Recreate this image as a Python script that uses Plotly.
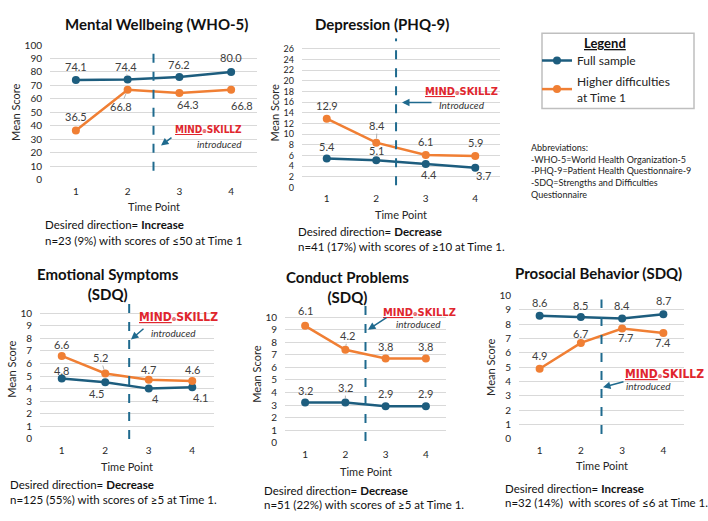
import plotly.graph_objects as go

W, H = 708, 521
FONT = "Lato"
LOGO_FONT = "Liberation Sans Narrow, Arial Narrow, DejaVu Sans Condensed"


def fx(px):
    return px / W


def fy(py):
    return 1 - py / H


# ---------------- data ----------------
time_points = [1, 2, 3, 4]
tick_labels = ["1", "2", "3", "4"]

wellbeing_full = [74.1, 74.4, 76.2, 80.0]
wellbeing_high = [36.5, 66.8, 64.3, 66.8]
wellbeing_full_labels = ["74.1", "74.4", "76.2", "80.0"]
wellbeing_high_labels = ["36.5", "66.8", "64.3", "66.8"]

depression_full = [5.4, 5.1, 4.4, 3.7]
depression_high = [12.9, 8.4, 6.1, 5.9]
depression_full_labels = ["5.4", "5.1", "4.4", "3.7"]
depression_high_labels = ["12.9", "8.4", "6.1", "5.9"]

emotional_full = [4.8, 4.5, 4.0, 4.1]
emotional_high = [6.6, 5.2, 4.7, 4.6]
emotional_full_labels = ["4.8", "4.5", "4", "4.1"]
emotional_high_labels = ["6.6", "5.2", "4.7", "4.6"]

conduct_full = [3.2, 3.2, 2.9, 2.9]
conduct_high = [9.3, 7.4, 6.7, 6.7]
conduct_full_labels = ["3.2", "3.2", "2.9", "2.9"]
conduct_high_labels = ["6.1", "4.2", "3.8", "3.8"]

prosocial_full = [8.6, 8.5, 8.4, 8.7]
prosocial_high = [4.9, 6.7, 7.7, 7.4]
prosocial_full_labels = ["8.6", "8.5", "8.4", "8.7"]
prosocial_high_labels = ["4.9", "6.7", "7.7", "7.4"]

series_names = ["Full sample", "Higher difficulties<br>at Time 1"]
x_title = "Time Point"
y_title = "Mean Score"

# ---------------- styles ----------------
BLUE = "#1d5d7e"
ORANGE = "#f07f34"
GRID = "#d9d9d9"
TXT = "#262626"

panels = [
    dict(title="Mental Wellbeing (WHO-5)", tpos=(156, 17),
         xd=(50, 257), yd=(39, 177), yr=[0, 100], tv=list(range(0, 101, 10)), tfs=10,
         full=wellbeing_full, high=wellbeing_high,
         fl=wellbeing_full_labels, hl=wellbeing_high_labels,
         fo=[(0, -13, 0), (-2, -13, 1), (0, -13, 0), (0, -14, 0)],
         ho=[(0, -14, 0), (-7, 17, 1), (9, 11, 0), (11, 16, 0)],
         dash=(2.5, 6.5, 99.5), xt=205,
         logo=(208, 126, 10), intro=(219, 140), arrow=(161, 142, 12, -9),
         intro_text="introduced",
         desired=(43, 223, 239, "Increase", "n=23 (9%) with scores of ≤50 at Time 1")),
    dict(title="Depression (PHQ-9)", tpos=(382, 17),
         xd=(302, 500), yd=(32, 185), yr=[0, 28], tv=list(range(0, 27, 2)), tfs=9,
         full=depression_full, high=depression_high,
         fl=depression_full_labels, hl=depression_high_labels,
         fo=[(0, -12, 0), (0, -10, 1), (3, 11, 0), (8, 8, 0)],
         ho=[(0, -13, 0), (1, -17, 1), (0, -13, 0), (0, -13, 0)],
         dash=(2.4, 0.4, 28), xt=213,
         logo=(461, 87, 11), intro=(462, 100), arrow=(402, 98, 31, 0),
         intro_text="Introduced",
         desired=(296, 230, 246, "Decrease", "n=41 (17%) with scores of ≥10 at Time 1.")),
    dict(title="Emotional Symptoms<br>(SDQ)", tpos=(108, 284),
         xd=(40, 214), yd=(300, 443), yr=[0, 11.08], tv=list(range(0, 11)), tfs=10,
         full=emotional_full, high=emotional_high,
         fl=emotional_full_labels, hl=emotional_high_labels,
         fo=[(0, -8, 0), (-9, 11, 0), (7, 10, 0), (8, 10, 0)],
         ho=[(0, -11, 0), (-5, -16, 1), (0, -10, 0), (0, -12, 0)],
         dash=(2.55, 0, 11.08), xt=471,
         logo=(179, 318, 12), intro=(173, 334), arrow=(131, 341, 14, -12),
         intro_text="introduced",
         desired=(8, 490, 505, "Decrease", "n=125 (55%) with scores of ≥5 at Time 1.")),
    dict(title="Conduct Problems<br>(SDQ)", tpos=(347, 287),
         xd=(285, 446), yd=(306, 447), yr=[0, 10.93], tv=list(range(0, 11)), tfs=10,
         full=conduct_full, high=conduct_high,
         fl=conduct_full_labels, hl=conduct_high_labels,
         fo=[(0, -12, 0), (0, -15, 1), (0, -13, 0), (0, -13, 0)],
         ho=[(0, -15, 0), (2, -14, 1), (0, -12, 0), (0, -12, 0)],
         dash=(2.5, 0.15, 10.93), xt=476,
         logo=(419, 313, 11), intro=(418, 325), arrow=(368, 331, 20, -13),
         intro_text="introduced",
         desired=(262, 496, 510, "Decrease", "n=51 (22%) with scores of ≥5 at Time 1.")),
    dict(title="Prosocial Behavior (SDQ)", tpos=(598, 273),
         xd=(519, 684), yd=(296, 443), yr=[0, 10], tv=list(range(0, 11)), tfs=10,
         full=prosocial_full, high=prosocial_high,
         fl=prosocial_full_labels, hl=prosocial_high_labels,
         fo=[(0, -13, 0), (0, -12, 0), (0, -13, 0), (0, -14, 0)],
         ho=[(0, -13, 0), (0, -9, 0), (3, 9, 0), (0, 10, 0)],
         dash=(2.5, 0.34, 9.73), xt=470,
         logo=(664, 376, 12), intro=(648, 389), arrow=(603, 390, 22, -6),
         intro_text="introduced",
         desired=(503, 494, 508, "Increase", "n=32 (14%)  with scores of ≤6 at Time 1.")),
]

fig = go.Figure()
annotations = []
shapes = []
layout_axes = {}

for i, p in enumerate(panels, start=1):
    xa = "x" if i == 1 else f"x{i}"
    ya = "y" if i == 1 else f"y{i}"
    xkey = "xaxis" if i == 1 else f"xaxis{i}"
    ykey = "yaxis" if i == 1 else f"yaxis{i}"

    for vals, color, name in [(p["full"], BLUE, series_names[0]), (p["high"], ORANGE, series_names[1])]:
        fig.add_trace(go.Scatter(
            x=time_points, y=vals, mode="lines+markers", name=name,
            line=dict(color=color, width=2.5), marker=dict(color=color, size=8),
            xaxis=xa, yaxis=ya, showlegend=(i == 1), cliponaxis=False,
            legendgroup=name,
        ))

    for vals, labels, offs in [(p["full"], p["fl"], p["fo"]), (p["high"], p["hl"], p["ho"])]:
        for t, v, lab, (dx, dy, lead) in zip(time_points, vals, labels, offs):
            if lead:
                annotations.append(dict(
                    x=t, y=v, xref=xa, yref=ya, text=lab, showarrow=True,
                    ax=dx, ay=dy, arrowhead=0, arrowwidth=0.8, arrowcolor="#a0a0a0",
                    standoff=4, font=dict(family=FONT, size=11, color="#404040")))
            else:
                annotations.append(dict(
                    x=t, y=v, xref=xa, yref=ya, text=lab, showarrow=False,
                    xshift=dx, yshift=-dy, font=dict(family=FONT, size=11, color="#404040")))

    layout_axes[xkey] = dict(
        domain=[fx(p["xd"][0]), fx(p["xd"][1])], range=[0.5, 4.5], anchor=ya,
        tickmode="array", tickvals=time_points, ticktext=tick_labels,
        showgrid=False, zeroline=False, showline=False, ticks="",
        tickfont=dict(family=FONT, size=10, color=TXT), ticklabelstandoff=4,
    )
    layout_axes[ykey] = dict(
        domain=[fy(p["yd"][1]), fy(p["yd"][0])], range=p["yr"], anchor=xa,
        tickmode="array", tickvals=p["tv"],
        showgrid=True, gridcolor=GRID, gridwidth=1, zeroline=False, showline=False, ticks="",
        tickfont=dict(family=FONT, size=p["tfs"], color=TXT), ticklabelstandoff=7,
        title=dict(text=y_title, font=dict(family=FONT, size=11, color=TXT), standoff=1),
    )

    # x-axis title
    annotations.append(dict(
        x=fx((p["xd"][0] + p["xd"][1]) / 2), y=fy(p["xt"]), xref="paper", yref="paper",
        text=x_title, showarrow=False, xanchor="center", yanchor="middle",
        font=dict(family=FONT, size=11, color=TXT)))

    # intervention line
    dx_, y0, y1 = p["dash"]
    shapes.append(dict(type="line", xref=xa, yref=ya, x0=dx_, x1=dx_, y0=y0, y1=y1,
                       line=dict(color="#1f6a8e", width=2, dash="dash"), layer="above"))

    # title
    annotations.append(dict(
        x=fx(p["tpos"][0]), y=fy(p["tpos"][1]), xref="paper", yref="paper",
        text=f"<b>{p['title']}</b>", showarrow=False, xanchor="center", yanchor="middle",
        font=dict(family=FONT, size=15, color="#111111")))

    # logo + introduced
    lx, ly, lsz = p["logo"]
    annotations.append(dict(
        x=fx(lx), y=fy(ly), xref="paper", yref="paper", showarrow=False,
        xanchor="center", yanchor="middle",
        text="<b><span style='text-decoration:underline'>MIND</span>"
             "<span style='font-size:6px'>⊛</span>SKILLZ</b>",
        font=dict(family=LOGO_FONT, size=lsz, color="#e0262d")))
    ix, iy = p["intro"]
    annotations.append(dict(
        x=fx(ix), y=fy(iy), xref="paper", yref="paper", showarrow=False,
        xanchor="center", yanchor="middle", text=f"<i>{p['intro_text']}</i>",
        font=dict(family=FONT, size=10, color="#333333")))
    hx, hy, ax_, ay_ = p["arrow"]
    annotations.append(dict(
        x=fx(hx), y=fy(hy), xref="paper", yref="paper", text="", showarrow=True,
        ax=ax_, ay=ay_, arrowhead=2, arrowsize=1, arrowwidth=1.5, arrowcolor="#1f6a8e"))

    # desired direction
    dxp, dy1, dy2, direction, ntext = p["desired"]
    annotations.append(dict(
        x=fx(dxp), y=fy(dy1), xref="paper", yref="paper", showarrow=False,
        xanchor="left", yanchor="middle", text=f"Desired direction= <b>{direction}</b>",
        font=dict(family=FONT, size=11.5, color="#111111")))
    annotations.append(dict(
        x=fx(dxp), y=fy(dy2), xref="paper", yref="paper", showarrow=False,
        xanchor="left", yanchor="middle", text=ntext,
        font=dict(family=FONT, size=11.5, color="#111111")))

# abbreviations
annotations.append(dict(
    x=fx(529), y=fy(136), xref="paper", yref="paper", showarrow=False,
    xanchor="left", yanchor="top", align="left",
    text="Abbreviations:<br>-WHO-5=World Health Organization-5<br>"
         "-PHQ-9=Patient Health Questionnaire-9<br>-SDQ=Strengths and Difficulties<br>Questionnaire",
    font=dict(family=FONT, size=9, color="#222222")))

# legend frame and heading
shapes.append(dict(type="rect", xref="paper", yref="paper",
                   x0=fx(542), x1=fx(694), y0=fy(104), y1=fy(27),
                   line=dict(color="#bfbfbf", width=1.5), fillcolor="rgba(0,0,0,0)"))
annotations.append(dict(
    x=fx(605), y=fy(37), xref="paper", yref="paper", showarrow=False,
    xanchor="center", yanchor="middle",
    text="<b><span style='text-decoration:underline'>Legend</span></b>",
    font=dict(family=FONT, size=13, color="#111111")))

fig.update_layout(
    width=W, height=H, margin=dict(l=0, r=0, t=0, b=0),
    paper_bgcolor="white", plot_bgcolor="white",
    annotations=annotations, shapes=shapes,
    legend=dict(
        x=fx(537), y=fy(40), xanchor="left", yanchor="top",
        borderwidth=0, bgcolor="rgba(0,0,0,0)",
        font=dict(family=FONT, size=12, color="#222222"),
        itemwidth=30, tracegroupgap=2,
    ),
    **layout_axes,
)

fig.write_html("out.html")
